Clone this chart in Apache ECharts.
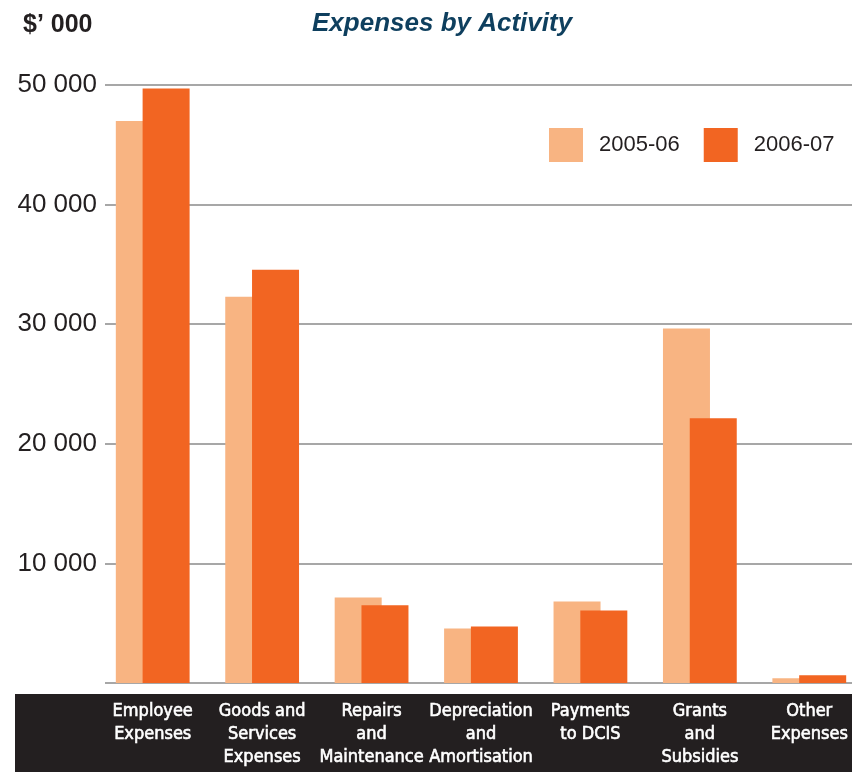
<!DOCTYPE html>
<html>
<head>
<meta charset="utf-8">
<script src="https://cdn.jsdelivr.net/npm/echarts@6/dist/echarts.min.js"></script>
<style>
  html, body { margin: 0; padding: 0; background: #ffffff; overflow: hidden; }
  /* the plot runs a little past the right edge of the window */
  #chart { width: 864px; height: 772px; }
</style>
</head>
<body>
<div id="chart"></div>
<script>
// Expenses by activity, $'000
const categories = [
  'Employee\nExpenses',
  'Goods and\nServices\nExpenses',
  'Repairs\nand\nMaintenance',
  'Depreciation\nand\nAmortisation',
  'Payments\nto DCIS',
  'Grants\nand\nSubsidies',
  'Other\nExpenses'
];
const seriesNames = ['2005-06', '2006-07'];
const values2005 = [47000, 32300, 7150, 4560, 6820, 29650, 400];
const values2006 = [49700, 34550, 6500, 4730, 6070, 22130, 650];
const yTicks = { min: 0, max: 50000, interval: 10000 };

const LIGHT = '#f8b482';
const DARK = '#f26522';
const INK = '#231f20';
const NARROW = '"Liberation Sans Narrow", "DejaVu Sans Condensed", "Arial Narrow", "Liberation Sans", sans-serif';

const chart = echarts.init(document.getElementById('chart'), null, { renderer: 'canvas' });

const fmt = v => (v === 0 ? '' : String(v).replace(/\B(?=(\d{3})+(?!\d))/g, ' '));

chart.setOption({
  animation: false,
  backgroundColor: '#ffffff',
  title: [
    {
      text: 'Expenses by Activity',
      left: 312, top: 11, padding: 0,
      textStyle: { fontFamily: 'Liberation Sans', fontSize: 26, fontWeight: 'bold', fontStyle: 'italic', color: '#0e3f5e' }
    },
    {
      text: '$\u2019 000',
      left: 23, top: 13, padding: 0,
      textStyle: { fontFamily: 'Liberation Sans', fontSize: 25, fontWeight: 'bold', color: INK }
    }
  ],
  legend: {
    data: seriesNames,
    left: 549, top: 128, padding: 0,
    itemWidth: 34, itemHeight: 34, itemGap: 24,
    icon: 'rect',
    textStyle: { fontFamily: 'Liberation Sans', fontSize: 22, color: INK, padding: [0, 0, 0, 11] }
  },
  graphic: [
    {
      type: 'rect', z: -10,
      shape: { x: 15, y: 694, width: 837, height: 78 },
      style: { fill: INK }
    }
  ],
  grid: [
    // gridlines and value labels
    { left: 105, right: 12, top: 85, bottom: 89 },
    // bars and category labels
    { left: 98, right: 0, top: 85, bottom: 89 }
  ],
  xAxis: [
    { gridIndex: 0, type: 'category', data: categories, show: false },
    {
      gridIndex: 1, type: 'category', data: categories, z: 10,
      axisLine: { show: false }, axisTick: { show: false },
      axisLabel: {
        margin: 17, interval: 0,
        fontFamily: NARROW, fontSize: 18,
        lineHeight: 23, color: '#ffffff', verticalAlign: 'top',
        textBorderColor: '#ffffff', textBorderWidth: 0.6
      }
    }
  ],
  yAxis: [
    {
      gridIndex: 0, type: 'value', min: yTicks.min, max: yTicks.max, interval: yTicks.interval,
      axisLine: { show: false }, axisTick: { show: false },
      axisLabel: { margin: 8, fontFamily: 'Liberation Sans', fontSize: 26, color: INK, formatter: fmt },
      splitLine: { lineStyle: { color: '#8a8a8a', width: 1.5 } }
    },
    {
      gridIndex: 1, type: 'value', min: yTicks.min, max: yTicks.max, interval: yTicks.interval,
      show: false, splitLine: { show: false }
    }
  ],
  series: [
    {
      name: seriesNames[0], type: 'bar', xAxisIndex: 1, yAxisIndex: 1,
      data: values2005, barWidth: 47, barGap: '-43%',
      itemStyle: { color: LIGHT }, z: 2
    },
    {
      name: seriesNames[1], type: 'bar', xAxisIndex: 1, yAxisIndex: 1,
      data: values2006, barWidth: 47,
      itemStyle: { color: DARK }, z: 3
    }
  ]
});
</script>
</body>
</html>
